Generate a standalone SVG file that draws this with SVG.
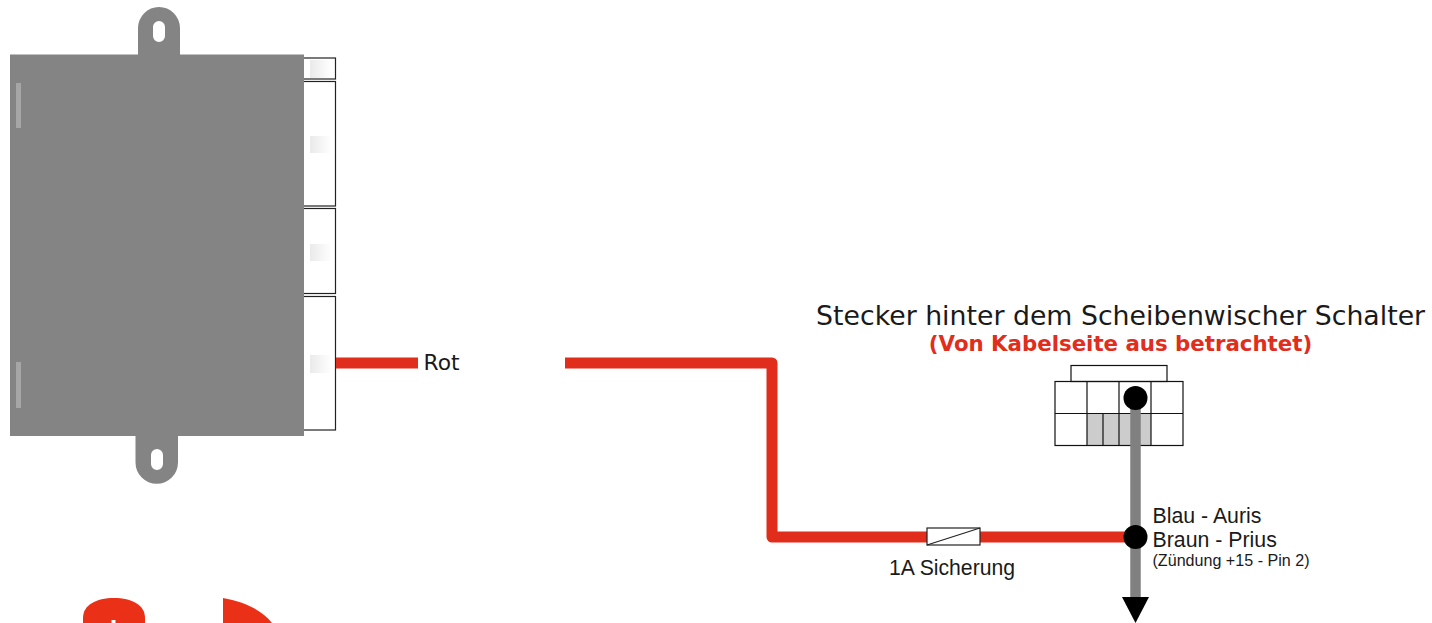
<svg xmlns="http://www.w3.org/2000/svg" width="1432" height="623" viewBox="0 0 1432 623">
<style>
.box{fill:#fff;stroke:#222;stroke-width:1.2}
.grid{fill:none;stroke:#111;stroke-width:1.2}
.dv{font-family:"DejaVu Sans",sans-serif;fill:#1a1a1a}
.ls{font-family:"Liberation Sans",Arial,sans-serif;fill:#1a1a1a}
.wire{fill:none;stroke:#e12d1c;stroke-width:11;stroke-linejoin:round}
.slot{fill:#a6a6a6}
</style>
<defs>
<linearGradient id="g"><stop offset="0" stop-color="#eaeaea"/><stop offset="1" stop-color="#fff"/></linearGradient>
</defs>
<g id="module">
<rect class="box" x="300" y="58" width="35.500" height="21"/>
<rect class="box" x="300" y="81.500" width="35.500" height="124.500"/>
<rect class="box" x="300" y="208.500" width="35.500" height="85"/>
<rect class="box" x="300" y="296.500" width="35.500" height="133.500"/>
<rect x="310" y="60" width="22" height="18" fill="url(#g)"/>
<rect x="310" y="136" width="22" height="17" fill="url(#g)"/>
<rect x="310" y="244" width="22" height="17" fill="url(#g)"/>
<rect x="310" y="355" width="22" height="18" fill="url(#g)"/>
<path fill="#848484" fill-rule="evenodd" d="M138 60V28A21 21 0 0 1 180 28V60ZM153 27V36A6 6 0 0 0 165 36V27A6 6 0 0 0 153 27Z"/>
<path fill="#848484" fill-rule="evenodd" d="M135.500 430V462.500A21.250 21.250 0 0 0 178 462.500V430ZM151 455V464A6 6 0 0 0 163 464V455A6 6 0 0 0 151 455Z"/>
<rect x="10" y="54.500" width="294" height="381.500" fill="#848484"/>
<rect class="slot" x="16" y="83" width="5" height="45"/>
<rect class="slot" x="16" y="362" width="5" height="46"/>
</g>
<g id="plug">
<rect x="1087" y="413.500" width="64" height="32" fill="#ccc"/>
<rect class="grid" x="1071" y="365.500" width="96" height="16"/>
<rect class="grid" x="1055" y="381.500" width="128" height="64"/>
<path class="grid" d="M1055 413.500H1183M1087 381.500V445.500M1119 381.500V445.500M1151 381.500V445.500M1103 413.500V445.500"/>
</g>
<g id="connectors">
<path class="wire" d="M336 363H418"/>
<path class="wire" d="M565 363H772V537H1135"/>
<path fill="none" stroke="#808080" stroke-width="10.500" d="M1135.500 398V600"/>
</g>
<g id="plug-pin">
<circle cx="1135.500" cy="398" r="12"/>
</g>
<g id="fuse">
<rect x="927" y="528" width="53" height="17" fill="#fff" stroke="#222" stroke-width="1.200"/>
<path d="M927 545L980 528" stroke="#222" stroke-width="1.200"/>
</g>
<g id="junction">
<circle cx="1135.500" cy="537" r="12"/>
<path d="M1122 597H1149L1135.500 623Z"/>
</g>
<g id="red-shapes">
<path fill="#ea3118" d="M83 623V618C83 605 96 598 114 598S145 605 145 618V623Z"/>
<path d="M111.500 623V620H115.500V623Z" fill="#fff"/>
<path fill="#ea3118" d="M223 598C245 602 262 610 272 623H223Z"/>
</g>
<g id="labels">
<text class="dv" x="423.500" y="370" font-size="21.800">Rot</text>
<text class="dv" x="816" y="325" font-size="26.750">Stecker hinter dem Scheibenwischer Schalter</text>
<text x="1120.500" y="351" font-size="21.300" font-weight="bold" text-anchor="middle" fill="#e12d1c" style="font-family:'DejaVu Sans',sans-serif">(Von Kabelseite aus betrachtet)</text>
<text class="ls" x="1152.500" y="523" font-size="21.300">Blau - Auris</text>
<text class="ls" x="1152.500" y="547" font-size="21.300">Braun - Prius</text>
<text class="ls" x="1152.500" y="566" font-size="16.100">(Zündung +15 - Pin 2)</text>
<text class="ls" x="889" y="575" font-size="21.200">1A Sicherung</text>
</g>
</svg>
